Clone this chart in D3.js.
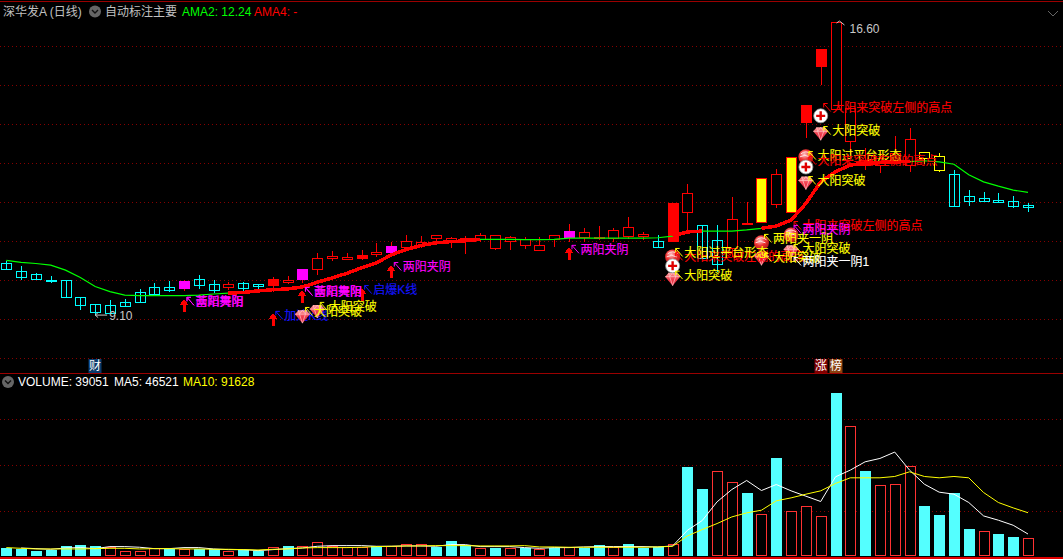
<!DOCTYPE html>
<html><head><meta charset="utf-8">
<script src="https://d3js.org/d3.v7.min.js"></script>
<style>
html,body{margin:0;padding:0;background:#000;overflow:hidden}
svg{display:block}
text{font-family:"Liberation Sans","Noto Sans CJK SC",sans-serif;font-size:12px;dominant-baseline:central}
.lab{stroke-width:.12px;paint-order:stroke}
</style></head><body>
<svg id="c" width="1063" height="559"></svg>
<script>
const open=[10.43,10.24,10.15,10.01,10.00,9.56,9.38,9.37,9.44,9.70,
9.81,9.82,9.79,10.02,9.90,9.83,9.93,9.89,9.88,9.95,
10.02,10.27,10.56,10.53,10.56,10.66,10.72,10.85,10.90,11.07,
11.00,11.02,11.04,10.81,11.00,10.90,10.77,11.06,11.11,11.11,
11.07,11.07,11.13,11.12,10.99,11.00,11.75,11.41,11.02,10.81,
11.42,11.49,11.94,11.75,14.03,15.48,14.38,13.56,12.94,12.94,
13.02,12.94,13.12,12.81,12.71,12.15,12.09,12.04,12.02,11.91];
const close=[10.28,10.07,10.03,9.97,9.57,9.35,9.18,9.16,9.34,9.43,
9.64,9.74,9.97,9.86,9.74,9.89,9.79,9.84,10.02,10.01,
10.27,10.56,10.61,10.58,10.63,10.71,10.87,10.99,10.97,11.14,
11.08,11.07,11.16,11.15,11.10,11.04,10.89,11.14,11.25,11.23,
11.10,11.28,11.35,11.18,10.85,11.98,12.22,10.56,10.40,11.55,
11.45,12.61,12.70,13.15,14.48,15.91,16.60,14.40,13.07,13.12,
13.25,13.60,13.28,13.17,11.90,12.02,12.03,12.00,11.89,11.86];
const high=[10.48,10.36,10.18,10.10,10.00,9.56,9.38,9.49,9.51,9.77,
9.92,9.97,10.00,10.13,10.00,9.95,9.95,9.90,10.08,10.10,
10.28,10.69,10.74,10.69,10.77,10.95,10.98,11.15,11.12,11.15,
11.11,11.13,11.20,11.15,11.12,11.11,11.09,11.15,11.43,11.32,
11.38,11.33,11.60,11.22,11.15,11.98,12.46,11.41,11.41,12.12,
12.00,12.61,12.83,13.15,14.48,15.91,16.60,14.40,13.38,13.33,
13.69,13.89,13.28,13.25,12.81,12.30,12.26,12.22,12.15,11.96];
const low=[10.25,10.00,10.00,9.92,9.57,9.23,9.10,9.13,9.31,9.43,
9.59,9.69,9.72,9.77,9.67,9.74,9.72,9.74,9.69,9.90,
9.92,10.13,10.48,10.51,10.51,10.59,10.64,10.77,10.82,10.89,
10.82,10.66,10.98,10.77,10.77,10.79,10.77,10.85,10.98,10.98,
11.02,10.98,11.04,11.02,10.85,11.00,11.28,10.56,10.21,10.59,
11.41,11.49,11.85,11.75,13.63,14.99,14.38,13.20,12.81,12.74,
12.99,12.77,12.97,12.75,11.90,11.88,12.03,12.00,11.83,11.75];
const ama=[10.50,10.45,10.42,10.38,10.25,10.06,9.83,9.70,9.61,9.60,
9.60,9.60,9.60,9.61,9.64,9.66,9.68,9.72,9.75,9.77,
9.82,9.94,10.05,10.17,10.31,10.44,10.64,10.78,10.88,10.95,
10.98,11.00,11.04,11.04,11.04,11.03,11.03,11.04,11.07,11.07,
11.07,11.07,11.07,11.07,11.08,11.12,11.23,11.25,11.25,11.25,
11.28,11.32,11.38,11.53,11.96,12.51,12.77,12.94,12.99,13.00,
13.02,13.03,13.05,13.02,12.96,12.69,12.51,12.40,12.30,12.24];
const amaRisingSpans=[[15,32],[45,47],[51,61]];
const solidRedDays=[18,24,45,54,55];
const magentaDays=[12,20,26,38];
const yellowSolidDays=[51,53];
const yellowHollowDays=[62,63];

const volume=[16300,14200,10000,12700,20600,22700,20600,19100,11500,11500,
17800,14200,15700,14900,14900,11500,13600,10600,19900,20600,
22100,30600,20600,18500,19100,21200,21200,26300,26300,18500,
31200,22700,17800,16300,17800,17000,14900,16300,19100,17000,
22700,18500,24800,17000,19100,26300,188200,141500,179100,155800,
133000,87900,207300,96300,106900,85700,345200,274600,179700,149400,
151500,189700,105500,86400,133000,56700,53900,46000,39700,39051];
const volumeRedDays=[7,8,9,10,12,15,18,20,21,22,23,24,26,27,28,32,34,36,38,41,45,48,49,51,53,54,55,57,59,60,61,66,69];
const ma5=[null,17000,15600,14200,17000,17800,15600,19900,19900,18500,
15600,15600,17800,17800,14900,13500,13500,11400,13500,15600,
17000,20600,22000,22000,22000,20600,20600,21300,21300,20600,
24100,24100,19900,19900,19900,17800,16300,17800,17800,19200,
19900,19900,19900,19900,19200,21300,54500,75100,114700,140800,
159900,138700,151400,138000,126700,115400,167700,181900,199500,206600,
220100,181900,152100,135200,130900,113300,84900,75800,65100,46521];
const ma10=[17800,16300,14900,14900,14900,14900,15600,16300,16300,14900,
15600,15600,14900,14900,14200,14200,13500,12800,14200,14900,
17000,17800,17800,17800,18500,19900,20600,21300,21300,22000,
22000,22000,21300,21300,21300,22000,19200,19200,18500,18500,
18500,18500,18500,18500,19200,20600,42500,56000,68700,82800,
91300,97000,116800,123100,130900,138000,153600,165600,165600,165600,
168400,178300,168400,165600,168400,165600,134500,113300,101900,91628];

const priceGrid=[9,10,11,12,13,14,15,16,8];
const volumeGrid=[96300,192900,289400];

const labelDays=[12,12,20,20,18,24,26,38,20,21,45,45,45,51,51,53,53,53,53,54,54,54,55,55];
const labelPrices=[9.44,9.44,9.69,9.69,9.08,9.74,10.33,10.77,9.18,9.31,10.59,10.69,10.11,11.05,10.56,11.38,11.28,10.79,10.46,13.17,13.04,12.53,14.40,13.81];
const labelTexts=["两阳夹阴","蕾蹈舞阳","两阳夹阴","蕾蹈舞阳","加速K线","启爆K线","两阳夹阴","两阳夹阴","大阳突破","大阳突破",
"大阳来突破左侧的高点","大阳过平台形态","大阳突破","两阳夹一阴","大阳突破","大阳来突破左侧的高点","两阳夹阴","大阳突破","两阳夹一阴1",
"大阳过平台形态","大阳来突破左侧的高点","大阳突破","大阳来突破左侧的高点","大阳突破"];
const labelKinds=["m","m","m","m","b","b","m","m","y","y","r","y","y","y","y","r","m","y","w","y","r","y","r","y"];

const arrowDays=[12,18,20,24,26,38];
const arrowPrices=[9.51,9.15,9.74,9.79,10.38,10.84];
const rubyDays=[20,21,45,51,53,54,55];
const rubyPrices=[9.06,9.19,10.02,10.54,10.72,12.48,13.74];
const ballDays=[45,51,53,54];
const ballPrices=[10.59,10.95,11.15,13.15];
const plusDays=[45,54,55];
const plusPrices=[10.36,12.89,14.20];
const eventDays=[6,55,56];
const eventTexts=["财","涨","榜"];
const maxLabel="16.60", minLabel="9.10";

const kindColor={m:"#ff00ff",b:"#1414ff",y:"#ffff00",r:"#ff0000",w:"#ffffff"};
const RED="#ff0000",CYAN="#00ffff",VRED="#ff3232",GRID="#860000";

const svg=d3.select("#c");
svg.append("rect").attr("width",1063).attr("height",559).attr("fill","#000");
const days=d3.range(open.length);
const x=d3.scaleLinear().domain([0,69]).range([6.3,1028]);
const yP=d3.scaleLinear().domain([9,16]).range([319,45.5]);
const yV=d3.scaleLinear().domain([0,345200]).range([556,393]);
const snap=v=>Math.round(v)+.5;
const defs=svg.append("defs");
const ballG=defs.append("radialGradient").attr("id","ballG").attr("cx","40%").attr("cy","35%").attr("r","70%");
ballG.append("stop").attr("offset","0%").attr("stop-color","#ffc8c8");
ballG.append("stop").attr("offset","50%").attr("stop-color","#f03030");
ballG.append("stop").attr("offset","100%").attr("stop-color","#a81818");
const rubyG=defs.append("linearGradient").attr("id","rubyG").attr("x1",0).attr("y1",0).attr("x2",0).attr("y2",1);
rubyG.append("stop").attr("offset","0%").attr("stop-color","#ff9c9c");
rubyG.append("stop").attr("offset","50%").attr("stop-color","#f04050");
rubyG.append("stop").attr("offset","100%").attr("stop-color","#e02038");

// panel rules
[[1.5,"#9a0000"],[373.5,"#9a0000"],[558,"#e00000"]].forEach(([y,c])=>{
  svg.append("line").attr("x1",0).attr("x2",1063).attr("y1",y).attr("y2",y)
    .attr("stroke",c).attr("stroke-width",y===558?2:1).attr("shape-rendering","crispEdges");
});
// grids
const dash=(sel)=>sel.attr("x1",0).attr("x2",1063).attr("stroke",GRID).attr("stroke-dasharray","1 3").attr("shape-rendering","crispEdges");
svg.append("g").selectAll("line").data(priceGrid).join("line").call(dash)
  .attr("y1",d=>snap(yP(d))).attr("y2",d=>snap(yP(d)));
svg.append("g").selectAll("line").data(volumeGrid).join("line").call(dash)
  .attr("y1",d=>snap(yV(d))).attr("y2",d=>snap(yV(d)));

// candles
const cg=svg.append("g").attr("shape-rendering","crispEdges");
days.forEach(i=>{
  const cx=snap(x(i));
  const down=close[i]<open[i];
  const solid=solidRedDays.includes(i), mag=magentaDays.includes(i), ys=yellowSolidDays.includes(i), yh=yellowHollowDays.includes(i);
  const col=yh?"#ffff00":down?CYAN:RED;
  cg.append("line").attr("x1",cx).attr("x2",cx).attr("y1",yP(high[i])).attr("y2",yP(low[i])).attr("stroke",col).attr("stroke-width",1);
  const t=Math.round(yP(Math.max(open[i],close[i]))), b=Math.round(yP(Math.min(open[i],close[i])));
  const fill=mag?"#ff00ff":solid?RED:ys?"#ffff00":down?"none":"#000";
  cg.append("rect").attr("x",cx-5).attr("y",t+.5).attr("width",10).attr("height",Math.max(1,b-t))
    .attr("fill",fill).attr("stroke",mag?"#ff00ff":col).attr("stroke-width",1);
});

// AMA line
const line=d3.line().x(i=>x(i)).y(i=>yP(ama[i]));
svg.append("path").attr("d",line(days)).attr("fill","none").attr("stroke","#00ff00").attr("stroke-width",1.2);
amaRisingSpans.forEach(([a,b])=>{
  svg.append("path").attr("d",line(d3.range(a,b+1))).attr("fill","none").attr("stroke",RED).attr("stroke-width",3.5).attr("stroke-linejoin","round").attr("shape-rendering","crispEdges");
});

// volume
const vg=svg.append("g").attr("shape-rendering","crispEdges");
days.forEach(i=>{
  const cx=Math.round(x(i)), t=Math.round(yV(volume[i]));
  if(volumeRedDays.includes(i)){
    vg.append("rect").attr("x",cx-5+.5).attr("y",t+.5).attr("width",10).attr("height",556-t-1).attr("fill","#000").attr("stroke",VRED).attr("stroke-width",1);
  }else{
    vg.append("rect").attr("x",cx-5).attr("y",t).attr("width",11).attr("height",556-t).attr("fill","#54ffff");
  }
});
const maLine=arr=>d3.line().defined(i=>arr[i]!=null).x(i=>x(i)).y(i=>yV(arr[i]))(days);
svg.append("path").attr("d",maLine(ma5)).attr("fill","none").attr("stroke","#fff").attr("stroke-width",1);
svg.append("path").attr("d",maLine(ma10)).attr("fill","none").attr("stroke","#ffff00").attr("stroke-width",1);

function drawLabel(k){
  const tx=x(labelDays[k])+11.5, ty=yP(labelPrices[k]), c=kindColor[labelKinds[k]];
  svg.append("path").attr("d",`M${tx-1.5},${ty+3.5}L${tx-8.5},${ty-4.5}M${tx-8.5},${ty-0.5}V${ty-4.5}H${tx-4.5}`)
    .attr("stroke",c).attr("fill","none").attr("stroke-width",1);
  svg.append("text").attr("class","lab").attr("x",tx).attr("y",ty).attr("fill",c).attr("stroke",c).text(labelTexts[k]);
}
// blue labels lie under the icons
labelKinds.forEach((kd,k)=>{if(kd==="b")drawLabel(k);});

// icons
rubyDays.forEach((d,k)=>{
  const g=svg.append("g").attr("transform",`translate(${x(d)},${yP(rubyPrices[k])})`);
  g.append("path").attr("d","M-7.5,-2.5L-4,-6.5L4,-6.5L7.5,-2.5L0,6.5Z").attr("fill","url(#rubyG)");
  g.append("path").attr("d","M-7.5,-2.5L7.5,-2.5M-3,-2.5L0,6.5L3,-2.5M-4,-6.5L-3,-2.5L0,-6.5L3,-2.5L4,-6.5").attr("stroke","#ffc8c8").attr("stroke-width",.7).attr("fill","none");
});
ballDays.forEach((d,k)=>{
  const g=svg.append("g").attr("transform",`translate(${x(d)},${yP(ballPrices[k])})`);
  g.append("circle").attr("r",7.5).attr("fill","url(#ballG)");
  g.append("path").attr("d","M-5,-3Q0,-7 5,-3M-6,0Q-1,-3 4,0").attr("stroke","#ffe0e0").attr("stroke-width",1).attr("fill","none");
});
plusDays.forEach((d,k)=>{
  const g=svg.append("g").attr("transform",`translate(${x(d)},${yP(plusPrices[k])})`);
  g.append("circle").attr("r",7).attr("fill","#fff").attr("stroke","#999").attr("stroke-width",.8);
  g.append("path").attr("d","M-4.5,0H4.5M0,-4.5V4.5").attr("stroke","#e00000").attr("stroke-width",2.4);
});

// up arrows
arrowDays.forEach((d,k)=>{
  const g=svg.append("g").attr("transform",`translate(${Math.round(x(d))},${yP(arrowPrices[k])})`).attr("shape-rendering","crispEdges");
  g.append("path").attr("d","M0,0L4.5,6H1.5V13H-1.5V6H-4.5Z").attr("fill",RED);
});

// labels
labelKinds.forEach((kd,k)=>{if(kd!=="b")drawLabel(k);});

// high and low markers
const hx=x(56), hy=yP(16.6);
svg.append("path").attr("d",`M${hx+1},${hy+1}L${hx+4},${hy-1}L${hx+9},${hy+3}`).attr("stroke","#c8c8c8").attr("fill","none");
svg.append("text").attr("x",hx+14).attr("y",hy+6.5).attr("fill","#c8c8c8").text(maxLabel);
const lx=x(6), ly=yP(9.1);
svg.append("path").attr("d",`M${lx+12},${ly}H${lx}M${lx+3},${ly-2.5}L${lx},${ly}L${lx+3},${ly+2.5}`).attr("stroke","#c8c8c8").attr("fill","none");
svg.append("text").attr("x",lx+14).attr("y",ly+1).attr("fill","#c8c8c8").text(minLabel);

// events
const eventBg=["#0a3a6a","#800000","#8a4010"];
eventDays.forEach((d,k)=>{
  const cx=Math.round(x(d));
  svg.append("rect").attr("x",cx-6.5).attr("y",359).attr("width",13).attr("height",14).attr("fill",eventBg[k]);
  svg.append("text").attr("x",cx).attr("y",366).attr("text-anchor","middle").attr("fill","#fff").text(eventTexts[k]);
});

// headers
function chevronDot(cx,cy){
  svg.append("circle").attr("cx",cx).attr("cy",cy).attr("r",6).attr("fill","#666");
  svg.append("path").attr("d",`M${cx-3},${cy-1.5}L${cx},${cy+1.5}L${cx+3},${cy-1.5}`).attr("stroke","#111").attr("stroke-width",1.4).attr("fill","none");
}
const T=(tx,ty,c,s)=>svg.append("text").attr("x",tx).attr("y",ty).attr("fill",c).text(s);
T(3,11.5,"#c0c0c0","深华发A (日线)");
chevronDot(95,11.5);
T(105,11.5,"#c0c0c0","自动标注主要");
T(182,11.5,"#00ff00","AMA2: 12.24");
T(254,11.5,"#ff0000","AMA4: -");
chevronDot(8,382);
T(18,381.5,"#ffffff","VOLUME: 39051");
T(114,381.5,"#ffffff","MA5: 46521");
T(183,381.5,"#ffff00","MA10: 91628");
svg.append("path").attr("d","M1048,11L1053,16L1058,11").attr("stroke","#666").attr("fill","none");
</script>
</body></html>
